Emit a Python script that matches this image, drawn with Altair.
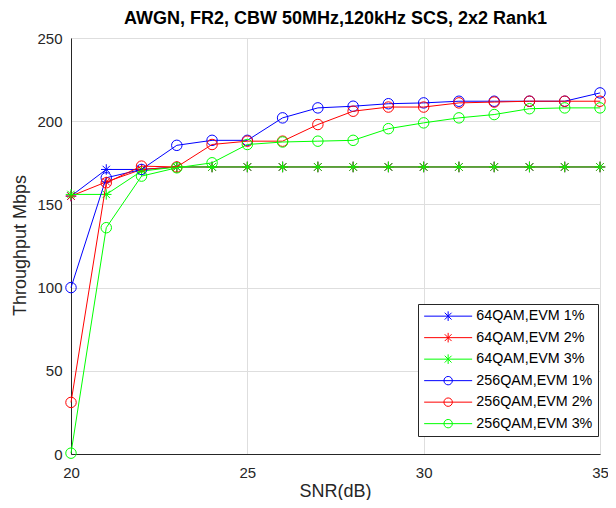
import altair as alt
import pandas as pd

snr = list(range(20, 36))

qam64_evm1 = [155, 171, 171, 172.5, 172.5, 172.5, 172.5, 172.5, 172.5, 172.5, 172.5, 172.5, 172.5, 172.5, 172.5, 172.5]
qam64_evm2 = [155, 163.5, 171, 172.5, 172.5, 172.5, 172.5, 172.5, 172.5, 172.5, 172.5, 172.5, 172.5, 172.5, 172.5, 172.5]
qam64_evm3 = [156, 156, 170, 172.5, 172.5, 172.5, 172.5, 172.5, 172.5, 172.5, 172.5, 172.5, 172.5, 172.5, 172.5, 172.5]
qam256_evm1 = [100, 166, 171, 185.5, 188.5, 188.5, 202, 208, 209, 210.5, 211, 212, 212, 212, 212, 217]
qam256_evm2 = [31, 163, 173, 172.5, 186, 188, 188, 198, 206, 208.5, 208.5, 211, 211.5, 212, 212, 212]
qam256_evm3 = [0.5, 136, 167, 172, 175, 186, 187.5, 188, 188.5, 195.5, 199, 202, 204, 207.5, 208, 208]

series_names = ["64QAM,EVM 1%", "64QAM,EVM 2%", "64QAM,EVM 3%",
                "256QAM,EVM 1%", "256QAM,EVM 2%", "256QAM,EVM 3%"]
series_values = [qam64_evm1, qam64_evm2, qam64_evm3, qam256_evm1, qam256_evm2, qam256_evm3]
series_colors = ["#0000ff", "#ff0000", "#00ff00", "#0000ff", "#ff0000", "#00ff00"]

x_ticks = [20, 25, 30, 35]
y_ticks = [0, 50, 100, 150, 200, 250]

STAR = "M0,-1L0,1M-1,0L1,0M-0.7,-0.7L0.7,0.7M-0.7,0.7L0.7,-0.7"
CIRC = "M1,0A1,1,0,1,1,-1,0A1,1,0,1,1,1,0Z"
LSTAR = "M-4,0L4,0M0,-0.8L0,0.8M-0.57,-0.57L0.57,0.57M-0.57,0.57L0.57,-0.57"
LCIRC = "M-4,0L4,0M0.7,0A0.7,0.7,0,1,1,-0.7,0A0.7,0.7,0,1,1,0.7,0Z"
shapes = [STAR, STAR, STAR, CIRC, CIRC, CIRC]
legend_shapes = [LSTAR, LSTAR, LSTAR, LCIRC, LCIRC, LCIRC]

rows = []
for name, vals in zip(series_names, series_values):
    for s, v in zip(snr, vals):
        rows.append({"snr": s, "thr": v, "series": name})
df = pd.DataFrame(rows)

FONT = "Liberation Sans"
TXT = "#262626"

x_enc = alt.X("snr:Q", scale=alt.Scale(domain=[20, 35], nice=False),
              axis=alt.Axis(values=x_ticks, title="SNR(dB)", grid=True, ticks=False,
                            labelPadding=11, labelFontSize=15, titleFontSize=18,
                            titleFontWeight="normal", titleX=264, titleY=37,
                            titleBaseline="middle", labelFlush=False))
y_enc = alt.Y("thr:Q", scale=alt.Scale(domain=[0, 250], nice=False),
              axis=alt.Axis(values=y_ticks, title="Throughput Mbps", grid=True, ticks=False,
                            labelPadding=9, labelFontSize=15, titleFontSize=18,
                            titleFontWeight="normal", titleX=-51, titleY=207,
                            titleBaseline="middle", titleAngle=-90, labelFlush=False))
color_enc = alt.Color("series:N", scale=alt.Scale(domain=series_names, range=series_colors), legend=None)
shape_enc = alt.Shape("series:N", scale=alt.Scale(domain=series_names, range=shapes), legend=None)

base = alt.Chart(df)
layers = []
for name in series_names:
    sub = base.transform_filter(alt.datum.series == name)
    layers.append(sub.mark_line(strokeWidth=1, clip=False).encode(x=x_enc, y=y_enc, color=color_enc))
    layers.append(sub.mark_point(filled=False, strokeWidth=1, size=110, opacity=1, clip=False)
                  .encode(x=x_enc, y=y_enc, color=color_enc, shape=shape_enc))

legend_props = dict(title=None, orient="none", legendX=347, legendY=266,
                    symbolSize=144, symbolStrokeWidth=1, symbolOffset=18,
                    labelOffset=21, padding=5, rowPadding=6.5,
                    strokeColor="#262626", fillColor="white",
                    labelFontSize=14.3, labelFont=FONT, labelColor="#000000",
                    symbolFillColor="transparent")

legend_layer = base.transform_filter("false").mark_point(filled=False, strokeWidth=1, opacity=1).encode(
    x="snr:Q", y="thr:Q",
    stroke=alt.Stroke("series:N", scale=alt.Scale(domain=series_names, range=series_colors),
                      legend=alt.Legend(**legend_props)),
    shape=alt.Shape("series:N", scale=alt.Scale(domain=series_names, range=legend_shapes),
                    legend=alt.Legend(**legend_props)),
)

chart = alt.layer(*layers, legend_layer).resolve_scale(shape="independent", stroke="independent").properties(
    width=529, height=416,
    title=alt.TitleParams("AWGN, FR2, CBW 50MHz,120kHz SCS, 2x2 Rank1", fontSize=18,
                          fontWeight="bold", font=FONT, color="#000000", offset=3, anchor="middle"),
    autosize=alt.AutoSizeParams(type="none"),
    padding={"left": 63, "top": 30, "right": 8, "bottom": 46},
).configure_axis(
    labelFont=FONT, titleFont=FONT, labelColor=TXT, titleColor=TXT,
    domainColor=TXT, domainWidth=1, gridColor="#dedede", gridWidth=1,
).configure_view(stroke="#cccccc", strokeWidth=1)

chart.save("out.html", embed_options={"renderer": "svg", "actions": False})
